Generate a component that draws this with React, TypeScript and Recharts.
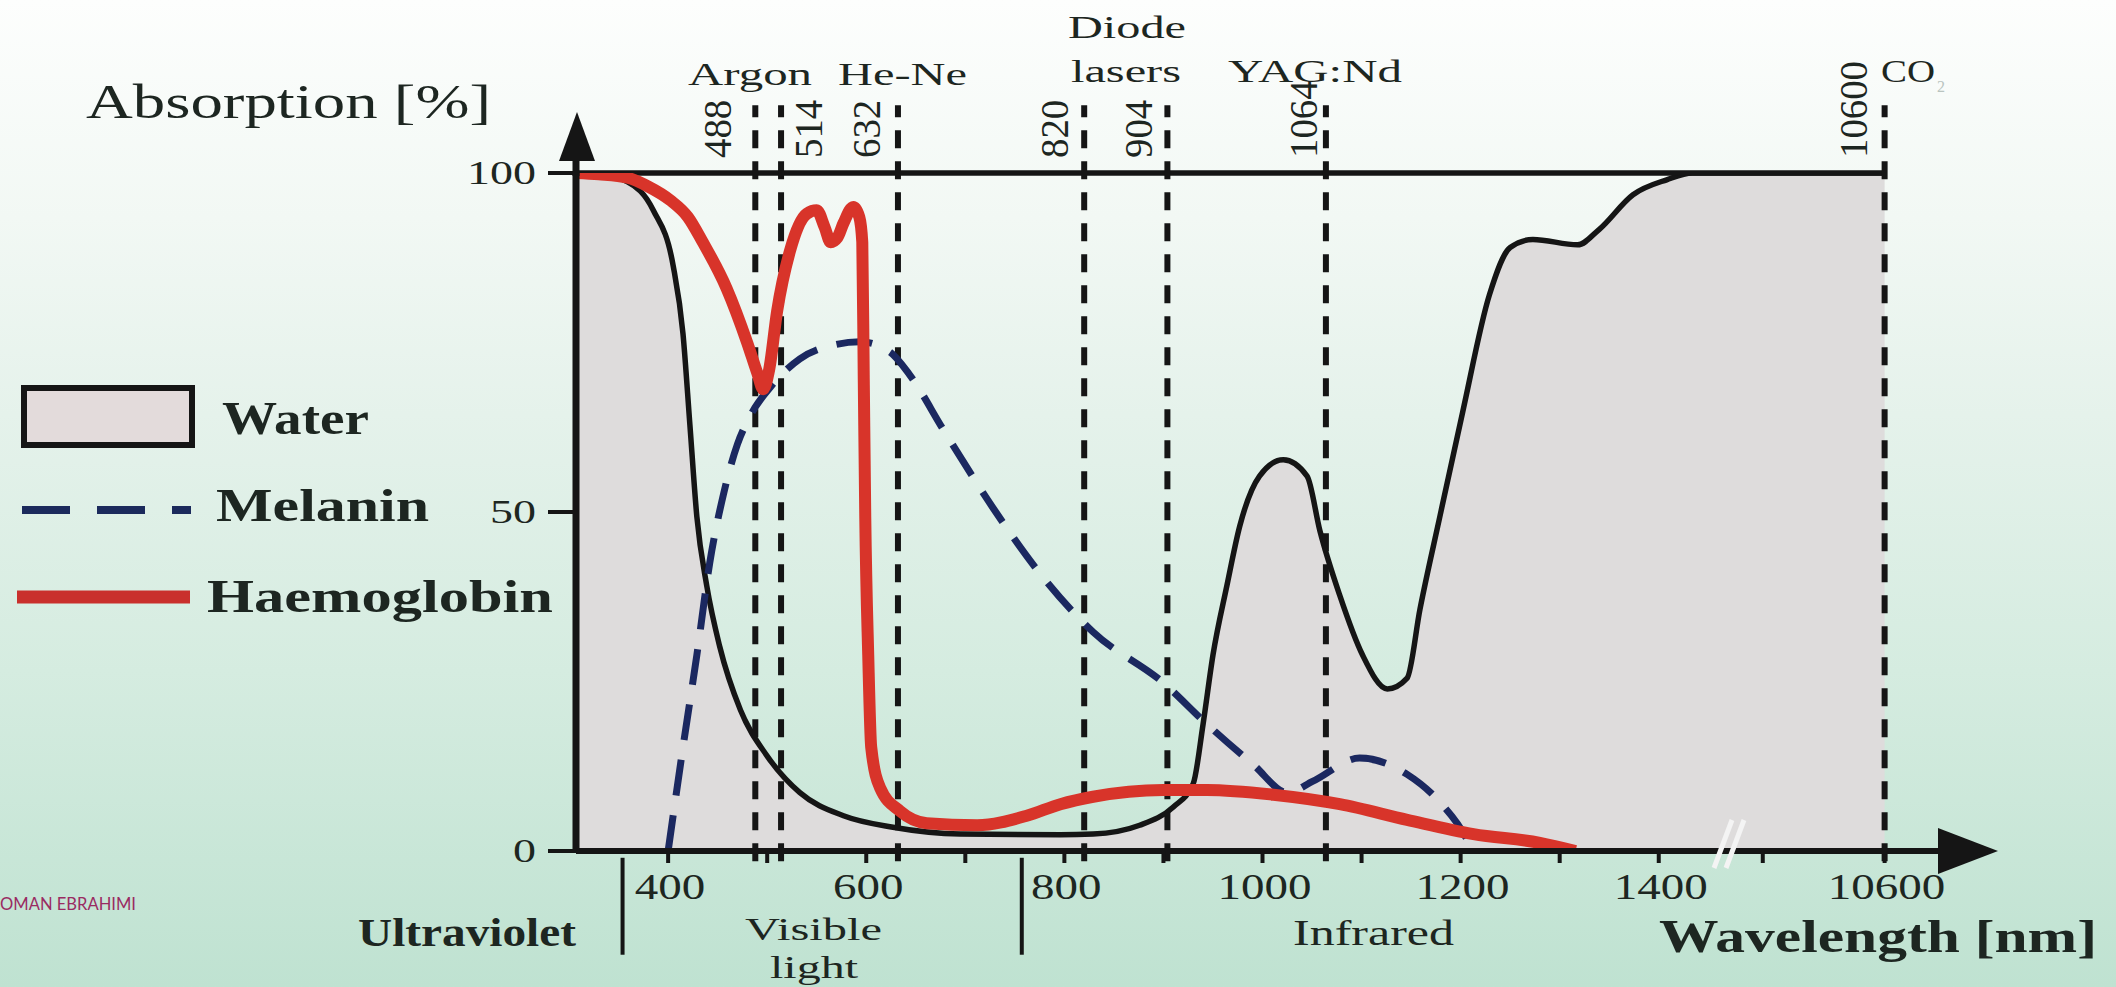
import React from 'react';
import { ComposedChart, Area, Line, XAxis, YAxis, ReferenceLine } from 'recharts';

// ---------- data ----------
// Wavelengths beyond the axis break ("//") are drawn at a compressed axis position.
const BREAK_POS = 1628;
const axisPos = (nm: number) => (nm > 1500 ? BREAK_POS : nm);

const waterNm = [307, 330, 359, 385, 405, 415, 422, 429, 439, 452, 473, 500, 533, 577, 627, 695, 796, 829, 876, 910, 930, 940, 950, 964, 977, 997, 1021, 1045, 1058, 1078, 1101, 1126, 1146, 1159, 1179, 1202, 1229, 1250, 1273, 1318, 1340, 1374, 1408, 1434, 10600];
const waterPct = [100, 99.8, 98.7, 94.5, 86.4, 76.3, 62.8, 49.3, 39.1, 30.2, 20.8, 14.0, 8.6, 5.2, 3.5, 2.5, 2.4, 2.5, 3.8, 6.5, 9.9, 18.7, 28.9, 39.1, 47.9, 55.3, 57.7, 55.3, 47.2, 37.7, 28.9, 23.9, 25.5, 35.7, 49.3, 64.7, 82, 89, 90.2, 89.4, 91.7, 96.8, 99, 100, 100];

const melaninNm = [400, 415, 429, 442, 456, 470, 483, 506, 533, 566, 594, 624, 644, 678, 728, 775, 829, 900, 944, 991, 1025, 1051, 1098, 1146, 1179, 1206, 1212];
const melaninPct = [0, 15.3, 28.9, 42.5, 52.7, 60, 64.2, 68.9, 72.6, 74.6, 75.1, 73.6, 70.2, 62.1, 50.6, 41, 32.3, 24.8, 18.7, 12.7, 8.6, 10.3, 13.7, 11.3, 7.2, 1.8, 0];

const haemoNm = [307, 330, 359, 380, 402, 420, 435, 459, 480, 490, 496, 502, 510, 523, 540, 550, 558, 564, 571, 577, 587, 593, 596, 597.5, 599, 602, 605, 614, 634, 661, 712, 762, 796, 829, 900, 944, 1011, 1078, 1146, 1213, 1280, 1316];
const haemoPct = [100, 99.8, 99.3, 98, 96, 93.5, 89.8, 83, 74.9, 70.5, 68.1, 71, 79.6, 88.5, 94, 94.5, 92, 89.8, 90.5, 92.6, 95, 93.5, 89.8, 69.5, 49.3, 28.9, 15.3, 9.3, 5.9, 4.1, 3.8, 5.2, 6.9, 8, 9, 9, 8.3, 6.9, 4.6, 2.5, 1.2, 0];

const laserNm = [488, 514, 632, 820, 904, 1064, 10600];
const laserLabels = ['488', '514', '632', '820', '904', '1064', '10600'];

const xTickPos = [400, 500, 600, 700, 800, 900, 1000, 1100, 1200, 1300, 1400, 1505, BREAK_POS];
const xTickLabels = ['400', '', '600', '', '800', '', '1000', '', '1200', '', '1400', '', '10600'];
const yTicks = [0, 50, 100];

const regionBoundaryNm = [354, 757];

// ---------- styles ----------
const SERIF = "Liberation Serif, Times New Roman, serif";
const INK = '#1d2621';
const LINE_BLACK = '#151515';
const laserLabelDx = [-24, 41, -18, -16, -15, -9, -18];

const toSeries = (nm: number[], pct: number[]) => nm.map((n, i) => ({ x: axisPos(n), y: pct[i] }));
const waterData = toSeries(waterNm, waterPct);
const melaninData = toSeries(melaninNm, melaninPct);
const haemoData = toSeries(haemoNm, haemoPct);

const XTick = (props: any) => {
  const { x, y, payload } = props;
  const idx = xTickPos.indexOf(payload.value);
  const label = idx >= 0 ? xTickLabels[idx] : '';
  if (!label) return <g />;
  return (
    <text x={x + 2} y={y + 34} textAnchor="middle" fontFamily={SERIF} fontSize={36} fill={INK}
      textLength={label.length * 23.5} lengthAdjust="spacingAndGlyphs">{label}</text>
  );
};

const YTick = (props: any) => {
  const { y, payload } = props;
  const label = String(payload.value);
  return (
    <text x={536} y={y + 11} textAnchor="end" fontFamily={SERIF} fontSize={34} fill={INK}
      textLength={label.length * 23} lengthAdjust="spacingAndGlyphs">{label}</text>
  );
};

const makeLaserLabel = (text: string, dx: number) => (p: any) => {
  const vb = p && p.viewBox;
  if (!vb) return <g />;
  const bx = vb.x + dx;
  const by = 158;
  return (
    <text x={bx} y={by} transform={`rotate(-90 ${bx} ${by})`} fontFamily={SERIF} fontSize={40} fill={INK}
      textLength={text.length * 19.4} lengthAdjust="spacingAndGlyphs">{text}</text>
  );
};

const T = (p: { x: number; y: number; w: number; size: number; bold?: boolean; children: string }) => (
  <text x={p.x} y={p.y} fontFamily={SERIF} fontSize={p.size} fontWeight={p.bold ? 'bold' : 'normal'} fill={INK}
    textLength={p.w} lengthAdjust="spacingAndGlyphs">{p.children}</text>
);

export default function App() {
  return (
    <div style={{ position: 'fixed', left: 0, top: 0, width: 2116, height: 987, overflow: 'hidden',
      background: 'linear-gradient(to bottom, #fdfefd 0%, #f2f8f4 22%, #e5f2eb 42%, #d5ece0 68%, #bfe2d1 100%)' }}>
      <div style={{ position: 'absolute', left: 0, top: 0 }}>
        <ComposedChart width={2116} height={987} margin={{ top: 173, right: 166, bottom: 76, left: 500 }}>
          <XAxis type="number" dataKey="x" domain={[307, 1694]} allowDataOverflow ticks={xTickPos}
            interval={0} tick={XTick} tickSize={12}
            tickLine={{ stroke: LINE_BLACK, strokeWidth: 4 }} axisLine={{ stroke: LINE_BLACK, strokeWidth: 6 }} height={60} />
          <YAxis type="number" domain={[0, 100]} allowDataOverflow ticks={yTicks} interval={0} tick={YTick}
            tickSize={28} width={76} tickLine={{ stroke: LINE_BLACK, strokeWidth: 4 }}
            axisLine={{ stroke: LINE_BLACK, strokeWidth: 7 }} />
          <Area data={waterData} dataKey="y" type="monotone" stroke={LINE_BLACK} strokeWidth={5.5}
            fill="#dedcdc" fillOpacity={1} isAnimationActive={false} dot={false} activeDot={false} />
          <ReferenceLine segment={[{ x: 307, y: 100 }, { x: BREAK_POS, y: 100 }]} stroke={LINE_BLACK} strokeWidth={5.5} ifOverflow="visible" />
          {laserNm.map((nm, i) => (
            <ReferenceLine key={nm} segment={[{ x: axisPos(nm), y: -1.5 }, { x: axisPos(nm), y: 110 }]}
              stroke={LINE_BLACK} strokeWidth={6} strokeDasharray="18 13" ifOverflow="visible"
              label={makeLaserLabel(laserLabels[i], laserLabelDx[i])} />
          ))}
          {regionBoundaryNm.map((nm) => (
            <ReferenceLine key={'rb' + nm} segment={[{ x: nm, y: -1 }, { x: nm, y: -15.3 }]}
              stroke={LINE_BLACK} strokeWidth={4} ifOverflow="visible" />
          ))}
          <Line data={melaninData} dataKey="y" type="monotone" stroke="#1b2860" strokeWidth={7}
            strokeDasharray="36 20" dot={false} activeDot={false} isAnimationActive={false} />
          <Line data={haemoData} dataKey="y" type="monotone" stroke="#d8342a" strokeWidth={12}
            strokeLinejoin="round" dot={false} activeDot={false} isAnimationActive={false} />
        </ComposedChart>
      </div>
      <svg width={2116} height={987} style={{ position: 'absolute', left: 0, top: 0, pointerEvents: 'none' }}>
        {/* axis arrows */}
        <line x1={576} y1={176} x2={576} y2={150} stroke={LINE_BLACK} strokeWidth={7} />
        <polygon points="577,112 559,161 595,161" fill={LINE_BLACK} />
        <polygon points="1998,851 1938,828 1938,874" fill={LINE_BLACK} />
        {/* axis break */}
        <line x1={1714} y1={868} x2={1732} y2={820} stroke="#f4f4f4" strokeWidth={5} />
        <line x1={1726} y1={868} x2={1744} y2={820} stroke="#f4f4f4" strokeWidth={5} />

        <T x={86} y={118} w={405} size={48}>Absorption [%]</T>
        <T x={688} y={85} w={124} size={32}>Argon</T>
        <T x={838} y={85} w={129} size={32}>He-Ne</T>
        <T x={1068} y={38} w={118} size={32}>Diode</T>
        <T x={1071} y={82} w={110} size={32}>lasers</T>
        <T x={1228} y={82} w={174} size={32}>YAG:Nd</T>
        <T x={1881} y={82} w={54} size={32}>CO</T>
        <text x={1937} y={92} fontFamily={SERIF} fontSize={16} fill="#b9c4bf">2</text>

        {/* legend */}
        <rect x={24} y={388} width={168} height={57} fill="#e3dbdb" stroke={LINE_BLACK} strokeWidth={6} />
        <T x={222} y={434} w={147} size={46} bold>Water</T>
        <line x1={22} y1={510} x2={191} y2={510} stroke="#1b2a5c" strokeWidth={8} strokeDasharray="48 27" />
        <T x={216} y={521} w={213} size={46} bold>Melanin</T>
        <line x1={17} y1={597} x2={190} y2={597} stroke="#c9302c" strokeWidth={13} />
        <T x={207} y={612} w={346} size={46} bold>Haemoglobin</T>

        {/* bottom labels */}
        <T x={358} y={946} w={218} size={39} bold>Ultraviolet</T>
        <T x={745} y={940} w={137} size={32}>Visible</T>
        <T x={770} y={978} w={88} size={32}>light</T>
        <T x={1293} y={945} w={161} size={36}>Infrared</T>
        <T x={1659} y={952} w={438} size={46} bold>Wavelength [nm]</T>

        <text x={0} y={910} fontFamily="Lato, Open Sans, sans-serif" fontSize={17} fill="#9a2b62"
          textLength={136} lengthAdjust="spacingAndGlyphs">OMAN EBRAHIMI</text>
      </svg>
    </div>
  );
}
